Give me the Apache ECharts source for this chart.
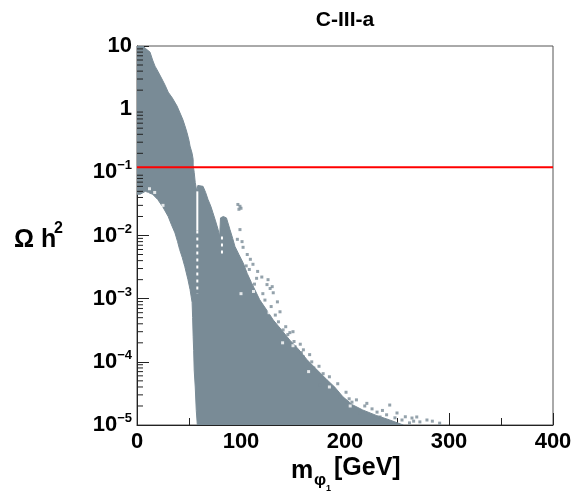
<!DOCTYPE html>
<html>
<head>
<meta charset="utf-8">
<script src="https://cdn.jsdelivr.net/npm/echarts@6/dist/echarts.min.js"></script>
<style>
html,body{margin:0;padding:0;background:#fff;}
#chart{width:575px;height:493px;}
</style>
</head>
<body>
<div id="chart"></div>
<script>
// ---- data (mass in GeV, relic density Omega h^2) ----
const titleText = 'C-III-a';
const xTicks = [0, 100, 200, 300, 400];
const yDecades = [1e-5, 1e-4, 1e-3, 1e-2, 1e-1, 1, 10];
const minorMultipliers = [2, 3, 4, 5, 6, 7, 8, 9];
const planckValue = 0.12;

// outline of the densely populated (filled) region, upper edge left->right
const upperEdge = [
  [0, 10], [5.8, 10], [8, 9.2], [12.5, 8], [15, 6], [17.3, 4.8], [20, 4], [24, 3],
  [27, 2.4], [30, 1.86], [34, 1.5], [38.5, 1.12], [41, 0.9], [44, 0.69], [46, 0.55],
  [48, 0.43], [50, 0.32], [51, 0.26], [53, 0.2], [54, 0.16], [54, 0.13], [55, 0.1],
  [56, 0.069], [57.5, 0.05], [58.5, 0.062], [63.5, 0.06], [66, 0.048], [68.3, 0.037],
  [71, 0.029], [73, 0.023], [75.5, 0.017], [78, 0.0124], [79.5, 0.0096], [80.3, 0.019],
  [83, 0.02], [86, 0.019], [89.4, 0.0124], [92, 0.009], [94.2, 0.0067], [98, 0.005],
  [102, 0.0037], [106, 0.0025], [110, 0.0018], [118, 0.00096], [125, 0.00065],
  [131, 0.00046], [139, 0.00032], [147, 0.00022], [155, 0.00016], [163.5, 0.000108],
  [172, 0.000078], [182.7, 0.000052], [190, 0.00004], [198, 0.000028], [207, 0.000021],
  [217, 0.0000173], [230, 0.0000142], [243, 0.000012], [256, 0.00001]
];
// lower edge, right->left
const lowerEdge = [
  [58, 0.00001], [57, 0.000017], [56, 0.00004], [55, 0.000074], [54.5, 0.00015],
  [54, 0.00025], [53.5, 0.0005], [53, 0.00087], [51, 0.0014], [49, 0.002], [46, 0.0032],
  [43.5, 0.0045], [41, 0.006], [39, 0.008], [36.5, 0.011], [33, 0.015], [30, 0.02],
  [25, 0.028], [20, 0.037], [15, 0.045], [8, 0.05], [3, 0.045], [0, 0.045]
];
// empty vertical gaps inside the filled region
const gapSolid = [[58, 0.05], [58, 0.012]];
const gapDotted = [[58, 0.012], [58, 0.0012]];
const gapDotted2 = [[81.7, 0.0096], [81.7, 0.0045]];
// isolated scan points outside the filled region
const sparsePoints = [
  [97, 0.031], [99, 0.029], [98, 0.026], [100, 0.027], [99, 0.0124], [96.5, 0.0087], [101, 0.008],
  [102, 0.0065], [106, 0.005], [109, 0.0042], [111.5, 0.0035], [116, 0.0027],
  [120, 0.0022], [126, 0.002], [125, 0.00167], [130, 0.00155], [128, 0.00145],
  [131, 0.00124], [135, 0.00089], [137.5, 0.00062], [140.5, 0.00032], [147, 0.00029],
  [150, 0.0003], [152, 0.000173], [160, 0.00012], [160, 0.000155], [170, 0.00008],
  [176, 0.000043], [188.5, 0.000039], [195, 0.000028], [206.7, 0.000023], [221, 0.000022],
  [243, 0.0000207], [214.4, 0.0000155], [230.8, 0.000016], [233.7, 0.0000134],
  [250, 0.0000155], [264.4, 0.0000129], [269, 0.0000134], [278.8, 0.000012],
  [254.8, 0.000012], [272, 0.0000112], [291, 0.0000107], [284, 0.0000115], [262, 0.0000108],
  [105, 0.0033], [108, 0.0029], [113, 0.0017], [115, 0.0021], [121, 0.0012], [123, 0.00095],
  [129, 0.00075], [133, 0.00055], [136, 0.00043], [143, 0.00036], [145, 0.00027],
  [151, 0.00021], [157, 0.00019], [158, 0.00014], [166, 0.00013], [168, 0.0001],
  [175, 0.000085], [179, 0.000065], [185, 0.000058], [193, 0.000045], [201, 0.000033],
  [204, 0.000026], [211, 0.000025], [219, 0.00002], [226, 0.000018], [236, 0.000017],
  [240, 0.0000145], [248, 0.000013], [258, 0.0000135], [266, 0.0000115]
];
// empty cells inside the filled region
const holePoints = [
  [12, 0.055], [17, 0.048], [10, 0.045], [25, 0.03], [6, 0.042], [100, 0.0012],
  [112, 0.0013], [127, 0.0006], [140, 0.0002], [150, 0.00018], [165, 0.00007],
  [185, 0.00004], [205, 0.00002]
];

const bandOutline = upperEdge.concat(lowerEdge);
const yMinorTicks = [];
yDecades.slice(0, -1).forEach(d => minorMultipliers.forEach(m => yMinorTicks.push([0, d * m])));

const GREY = '#798b96';
const FONT = 'Liberation Sans, Arial, sans-serif';

const chart = echarts.init(document.getElementById('chart'), null, {renderer: 'canvas'});

function supLabel(v) {
  const e = Math.round(Math.log10(v));
  if (e === 1) return '{b|10}';
  if (e === 0) return '{b|1}';
  return '{b|10}{s|\u2212' + Math.abs(e) + '}';
}

chart.setOption({
  animation: false,
  backgroundColor: '#fff',
  grid: {left: 137, right: 22, top: 46, bottom: 68, show: true, borderColor: '#555', borderWidth: 1, backgroundColor: 'transparent'},
  xAxis: {
    type: 'value', min: 0, max: 400, interval: 100,
    axisLine: {show: true, onZero: false, lineStyle: {color: '#222', width: 1}},
    axisTick: {show: true, inside: true, length: 12, lineStyle: {color: '#222'}},
    minorTick: {show: true, splitNumber: 2, length: 7, lineStyle: {color: '#222'}},
    splitLine: {show: false},
    axisLabel: {
      show: true, margin: 6, color: '#000', fontSize: 22, fontWeight: 'bold', fontFamily: FONT,
      showMinLabel: true, showMaxLabel: true,
      formatter: v => xTicks.indexOf(v) >= 0 ? String(v) : ''
    }
  },
  yAxis: {
    type: 'log', logBase: 10, min: yDecades[0], max: yDecades[yDecades.length - 1],
    axisLine: {show: true, lineStyle: {color: '#222', width: 1}},
    axisTick: {show: true, inside: true, length: 12, lineStyle: {color: '#222'}},
    splitLine: {show: false},
    axisLabel: {
      show: true, margin: 5, color: '#000', fontFamily: FONT,
      showMinLabel: true, showMaxLabel: true,
      formatter: supLabel,
      rich: {
        b: {fontSize: 22, fontWeight: 'bold', fontFamily: FONT, color: '#000', lineHeight: 26},
        s: {fontSize: 13, fontWeight: 'bold', fontFamily: FONT, color: '#000', verticalAlign: 'top', lineHeight: 14}
      }
    }
  },
  series: [
    {
      type: 'custom', name: 'band', clip: true, z: 2,
      data: bandOutline,
      renderItem: function (params, api) {
        if (params.dataIndex !== 0) return null;
        const pts = bandOutline.map(p => api.coord(p));
        return {type: 'polygon', shape: {points: pts}, style: {fill: GREY, stroke: GREY, lineWidth: 1}};
      }
    },
    {
      type: 'line', data: gapSolid, symbol: 'none', z: 3, silent: true,
      lineStyle: {color: '#fff', width: 2}
    },
    {
      type: 'line', data: gapDotted, symbol: 'none', z: 3, silent: true,
      lineStyle: {color: '#fff', width: 2, type: [3, 4]}
    },
    {
      type: 'line', data: gapDotted2, symbol: 'none', z: 3, silent: true,
      lineStyle: {color: '#fff', width: 2, type: [3, 4]}
    },
    {
      type: 'scatter', data: sparsePoints, symbol: 'rect', symbolSize: [3, 3], z: 3,
      itemStyle: {color: GREY}
    },
    {
      type: 'scatter', data: holePoints, symbol: 'rect', symbolSize: [3, 3], z: 3,
      itemStyle: {color: '#fff'}
    },
    {
      type: 'line', data: [[xTicks[0], planckValue], [xTicks[xTicks.length - 1], planckValue]],
      symbol: 'none', z: 5, lineStyle: {color: '#ff0000', width: 2}
    },
    {
      type: 'custom', name: 'yminor', clip: false, z: 6,
      data: yMinorTicks,
      renderItem: function (params, api) {
        const p = api.coord([api.value(0), api.value(1)]);
        return {type: 'line', shape: {x1: p[0], y1: p[1], x2: p[0] + 6, y2: p[1]}, style: {stroke: '#222', lineWidth: 1}};
      }
    }
  ],
  graphic: [
    {type: 'text', x: 345, y: 10, style: {text: titleText, textAlign: 'center', fontSize: 21, fontWeight: 'bold', fontFamily: FONT, fill: '#000'}, z: 10},
    {type: 'text', x: 14, y: 228, style: {text: '\u03A9 h', fontSize: 25, fontWeight: 'bold', fontFamily: FONT, fill: '#000'}, z: 10},
    {type: 'text', x: 54, y: 221, style: {text: '2', fontSize: 16, fontWeight: 'bold', fontFamily: FONT, fill: '#000'}, z: 10},
    {type: 'text', x: 291, y: 459, style: {text: 'm', fontSize: 25, fontWeight: 'bold', fontFamily: FONT, fill: '#000'}, z: 10},
    {type: 'text', x: 314, y: 472, style: {text: '\u03C6', fontSize: 17, fontWeight: 'bold', fontFamily: FONT, fill: '#000'}, z: 10},
    {type: 'text', x: 326, y: 484, style: {text: '1', fontSize: 9, fontWeight: 'bold', fontFamily: FONT, fill: '#000'}, z: 10},
    {type: 'text', x: 334, y: 456, style: {text: '[GeV]', fontSize: 25, fontWeight: 'bold', fontFamily: FONT, fill: '#000'}, z: 10}
  ]
});
</script>
</body>
</html>
